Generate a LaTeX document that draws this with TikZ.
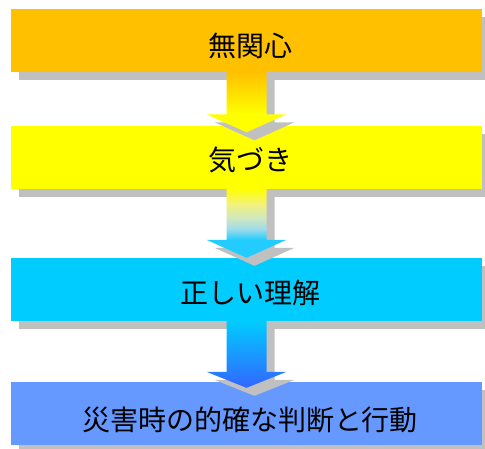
\documentclass[tikz,border=0pt]{standalone}
\usepackage{fontspec}
\newfontfamily\jp{Noto Sans CJK JP}
\usetikzlibrary{calc,shadows}
\definecolor{cA}{HTML}{FFC000}
\definecolor{cB}{HTML}{FFFF00}
\definecolor{cC}{HTML}{00CCFF}
\definecolor{cD}{HTML}{6699FF}
\definecolor{cE}{HTML}{3366FF}
\definecolor{cHead}{HTML}{22CCFF}
\definecolor{cM1}{HTML}{A0DCE8}
\definecolor{cM2}{HTML}{D0E8C0}
\definecolor{cM3}{HTML}{F2F27A}
\definecolor{shgray}{HTML}{C0C0C0}
\pgfdeclareverticalshading{arrowone}{100bp}{color(0bp)=(cB); color(40bp)=(cB); color(75bp)=(cA); color(100bp)=(cA)}
\pgfdeclareverticalshading{arrowtwo}{100bp}{color(0bp)=(cHead); color(38bp)=(cHead); color(46bp)=(cM1); color(54bp)=(cM2); color(64bp)=(cM3); color(75bp)=(cB); color(100bp)=(cB)}
\pgfdeclareverticalshading{arrowthree}{100bp}{color(0bp)=(cE); color(25bp)=(cE); color(75bp)=(cC); color(100bp)=(cC)}
% #1 start node anchor, #2 tip coordinate, #3 head length (pt), #4 x shift, #5 y shift (canvas pt), #6 style
\newcommand\fatarrowpath[6]{%
  \path[#6] let \p1=(#1), \p2=(#2) in
    (\x1-20pt+#4,\y1+#5) -- (\x1+20pt+#4,\y1+#5) -- (\x1+20pt+#4,\y2+#3+#5)
    -- (\x1+40pt+#4,\y2+#3+#5) -- (\x1+#4,\y2+#5) -- (\x1-40pt+#4,\y2+#3+#5)
    -- (\x1-20pt+#4,\y2+#3+#5) -- cycle;}
\begin{document}
\begin{tikzpicture}[x=1pt,y=-1pt,
  box/.style={rectangle, inner sep=0pt, minimum width=471pt, minimum height=63pt,
    general shadow={fill=shgray, shadow xshift=8pt, shadow yshift=-8pt}},
  lbl/.style={inner sep=0pt, font=\jp\fontsize{28pt}{30pt}\selectfont, text=black}]
\useasboundingbox (0,0) rectangle (485,448);
\node[box, fill=cA] (b1) at (246.5,40.5) {};
\node[box, fill=cB] (b2) at (246.5,157) {};
\node[box, fill=cC] (b3) at (246.5,289.5) {};
\node[box, fill=cD] (b4) at (246.5,413.5) {};
\node[lbl] (t1) at (250,45.5) {無関心};
\node[lbl] (t2) at (250,160) {気づき};
\node[lbl] (t3) at (250,292.5) {正しい理解};
\node[lbl] (t4) at (250,420) {災害時の的確な判断と行動};
\coordinate (p1) at ($(b2.north)+(0,7)$);
\coordinate (p2) at ($(b3.north)+(0,0)$);
\coordinate (p3) at ($(b4.north)+(0,6)$);
\fatarrowpath{b1.south}{p1}{18pt}{8pt}{-8pt}{fill=shgray}
\fatarrowpath{b1.south}{p1}{18pt}{0pt}{0pt}{shade, shading=arrowone}
\fatarrowpath{b2.south}{p2}{18pt}{8pt}{-8pt}{fill=shgray}
\fatarrowpath{b2.south}{p2}{18pt}{0pt}{0pt}{shade, shading=arrowtwo}
\fatarrowpath{b3.south}{p3}{16pt}{8pt}{-8pt}{fill=shgray}
\fatarrowpath{b3.south}{p3}{16pt}{0pt}{0pt}{shade, shading=arrowthree}
\end{tikzpicture}
\end{document}
